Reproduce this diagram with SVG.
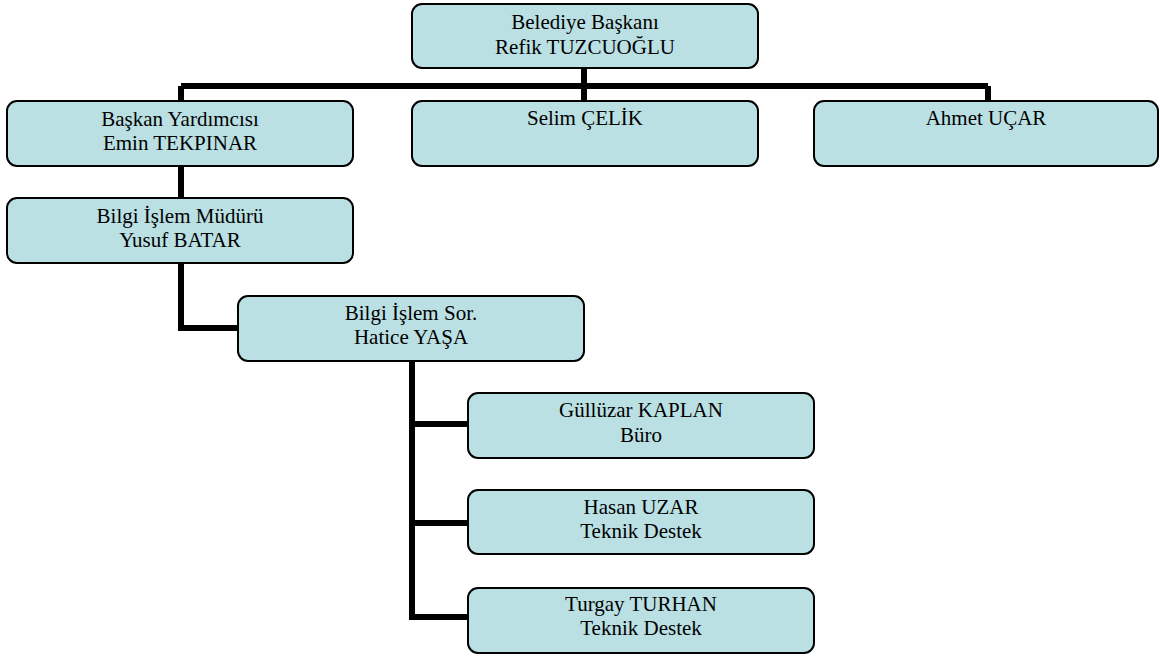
<svg xmlns="http://www.w3.org/2000/svg" width="1160" height="657" viewBox="0 0 1160 657">
<style>
.box{fill:#bae0e4;stroke:#000;stroke-width:2}
.t{font-family:"Liberation Serif","Times New Roman",serif;font-size:21px;fill:#000;text-anchor:middle}
.c{fill:none;stroke:#000;stroke-width:6;stroke-linejoin:miter}
</style>
<rect width="1160" height="657" fill="#fff"/>
<g id="connectors">
<path class="c" d="M584,68 V86 M181,86 H988 M181,86 V101 M584,86 V101 M988,86 V101"/>
<path class="c" d="M181,166 V198"/>
<path class="c" d="M181,263 V328 H238"/>
<path class="c" d="M412,361 V617 H468 M412,424 H468 M412,523 H468"/>
</g>
<g id="n-baskan"><rect class="box" x="412" y="4" width="346" height="64" rx="10"/><text class="t" x="585" y="29">Belediye Başkanı</text><text class="t" x="585" y="54">Refik TUZCUOĞLU</text></g>
<g id="n-yardimci"><rect class="box" x="7" y="101" width="346" height="65" rx="10"/><text class="t" x="180" y="126">Başkan Yardımcısı</text><text class="t" x="180" y="150">Emin TEKPINAR</text></g>
<g id="n-selim"><rect class="box" x="412" y="101" width="346" height="65" rx="10"/><text class="t" x="585" y="125">Selim ÇELİK</text></g>
<g id="n-ahmet"><rect class="box" x="814" y="101" width="344" height="65" rx="10"/><text class="t" x="986" y="125">Ahmet UÇAR</text></g>
<g id="n-mudur"><rect class="box" x="7" y="198" width="346" height="65" rx="10"/><text class="t" x="180" y="223">Bilgi İşlem Müdürü</text><text class="t" x="180" y="247">Yusuf BATAR</text></g>
<g id="n-sor"><rect class="box" x="238" y="296" width="346" height="65" rx="10"/><text class="t" x="411" y="320">Bilgi İşlem Sor.</text><text class="t" x="411" y="344">Hatice YAŞA</text></g>
<g id="n-gulluzar"><rect class="box" x="468" y="393" width="346" height="65" rx="10"/><text class="t" x="641" y="417">Güllüzar KAPLAN</text><text class="t" x="641" y="442">Büro</text></g>
<g id="n-hasan"><rect class="box" x="468" y="490" width="346" height="64" rx="10"/><text class="t" x="641" y="514">Hasan UZAR</text><text class="t" x="641" y="538">Teknik Destek</text></g>
<g id="n-turgay"><rect class="box" x="468" y="588" width="346" height="65" rx="10"/><text class="t" x="641" y="611">Turgay TURHAN</text><text class="t" x="641" y="635">Teknik Destek</text></g>
</svg>
